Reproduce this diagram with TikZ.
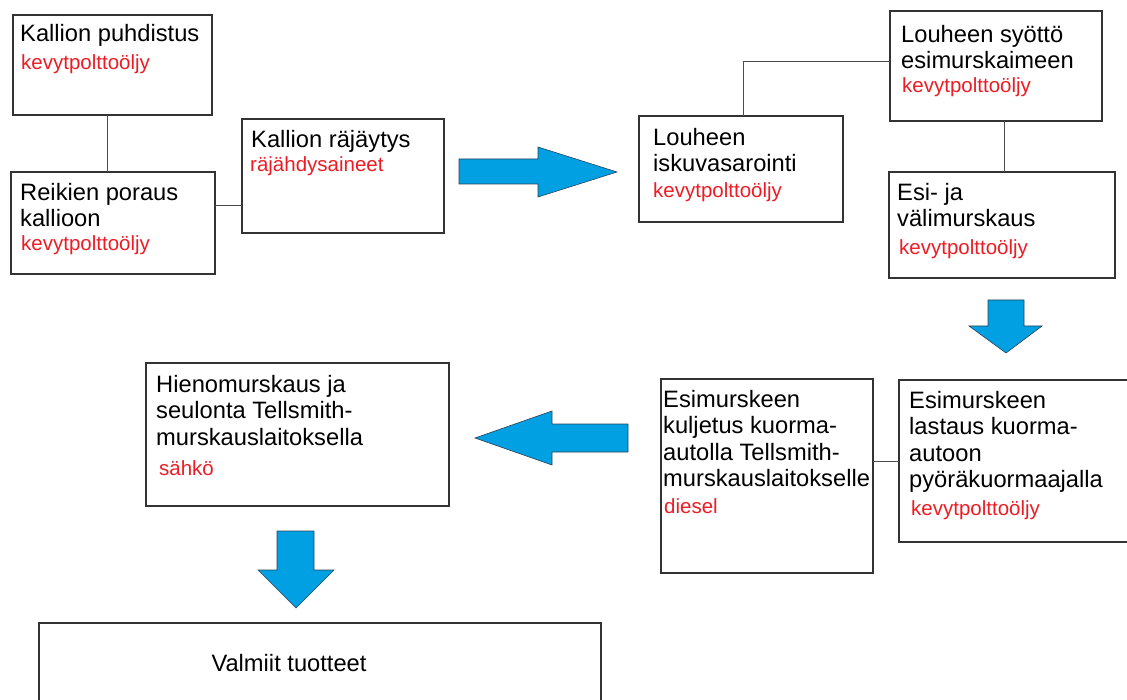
\documentclass[tikz,border=0pt]{standalone}
\usepackage{fontspec}
\setmainfont{Liberation Sans}
\definecolor{fuelred}{RGB}{237,28,36}
\definecolor{flowblue}{RGB}{0,160,227}
\definecolor{flowedge}{RGB}{45,65,85}
\begin{document}
\begin{tikzpicture}[x=1pt,y=-1pt,
  box/.style={draw=black!80, line width=1.1pt, inner sep=0, outer sep=0, anchor=north west},
  txt/.style={anchor=north west, align=left, inner sep=0, font=\fontsize{23.7}{26.5}\selectfont},
  fuel/.style={anchor=base west, inner sep=0, text=fuelred, font=\fontsize{20.5}{24}\selectfont},
  link/.style={draw=black!70, line width=1pt},
  bigarrow/.style={fill=flowblue, draw=flowedge, line width=0.6pt, line join=miter}]
\useasboundingbox (0,0) rectangle (1127,700);
\clip (0,0) rectangle (1127,700);
%% boxes
\node[box, minimum width=199, minimum height=100] (puhd) at (13,15) {};
\node[box, minimum width=204, minimum height=102] (poraus) at (11,172) {};
\node[box, minimum width=202, minimum height=114] (rajaytys) at (242,119) {};
\node[box, minimum width=204, minimum height=106] (isku) at (639,116) {};
\node[box, minimum width=212, minimum height=110] (syotto) at (890,11) {};
\node[box, minimum width=226, minimum height=106] (esimur) at (889,172) {};
\node[box, minimum width=240, minimum height=162] (lastaus) at (899,380) {};
\node[box, minimum width=212, minimum height=194] (kuljetus) at (661,379) {};
\node[box, minimum width=303, minimum height=143] (hieno) at (146,363) {};
\node[box, minimum width=562, minimum height=100] (valmiit) at (39,623) {};
%% texts
\node[txt] (puhd-t) at (20,22.3) {\strut Kallion puhdistus};
\node[fuel] (puhd-f) at (21,70) {kevytpolttoöljy};
\node[txt] (poraus-t) at (20,181.3) {\strut Reikien poraus\\kallioon};
\node[fuel] (poraus-f) at (21,251) {kevytpolttoöljy};
\node[txt] (rajaytys-t) at (251,128.3) {\strut Kallion räjäytys};
\node[fuel] (rajaytys-f) at (250,172) {räjähdysaineet};
\node[txt] (isku-t) at (653,126.3) {\strut Louheen\\iskuvasarointi};
\node[fuel] (isku-f) at (653,198) {kevytpolttoöljy};
\node[txt] (syotto-t) at (901,23.3) {\strut Louheen syöttö\\esimurskaimeen};
\node[fuel] (syotto-f) at (902,93) {kevytpolttoöljy};
\node[txt] (esimur-t) at (897,181.3) {\strut Esi- ja\\välimurskaus};
\node[fuel] (esimur-f) at (899,255) {kevytpolttoöljy};
\node[txt] (lastaus-t) at (909,389.3) {\strut Esimurskeen\\lastaus kuorma-\\autoon\\pyöräkuormaajalla};
\node[fuel] (lastaus-f) at (911,515) {kevytpolttoöljy};
\node[txt] (kuljetus-t) at (663,388.3) {\strut Esimurskeen\\kuljetus kuorma-\\autolla Tellsmith-\\murskauslaitokselle};
\node[fuel] (kuljetus-f) at (664,513) {diesel};
\node[txt] (hieno-t) at (156,373.3) {\strut Hienomurskaus ja\\seulonta Tellsmith-\\murskauslaitoksella};
\node[fuel] (hieno-f) at (159,475) {sähkö};
\node[txt, anchor=base] (valmiit-t) at (289,671) {Valmiit tuotteet};
%% links
\draw[link] (puhd.south -| 107,0) -- (poraus.north -| 107,0);
\draw[link] (poraus.east |- 0,206) -- (rajaytys.west |- 0,206);
\draw[link] (isku.north -| 743,0) |- (syotto.west |- 0,62);
\draw[link] (syotto.south -| 1004,0) -- (esimur.north -| 1004,0);
\draw[link] (kuljetus.east |- lastaus.west) -- (lastaus.west);
%% arrows
\draw[bigarrow] (459,159) -- (538,159) -- (538,147) -- (617,172) -- (538,197) -- (538,184) -- (459,184) -- cycle;
\draw[bigarrow] (988,300) -- (1024,300) -- (1024,326) -- (1042,326) -- (1006,353) -- (969,326) -- (988,326) -- cycle;
\draw[bigarrow] (628,424) -- (552,424) -- (552,411) -- (475,438) -- (552,465) -- (552,452) -- (628,452) -- cycle;
\draw[bigarrow] (277,531) -- (314,531) -- (314,570) -- (334,570) -- (296,608) -- (258,570) -- (277,570) -- cycle;
\end{tikzpicture}
\end{document}
